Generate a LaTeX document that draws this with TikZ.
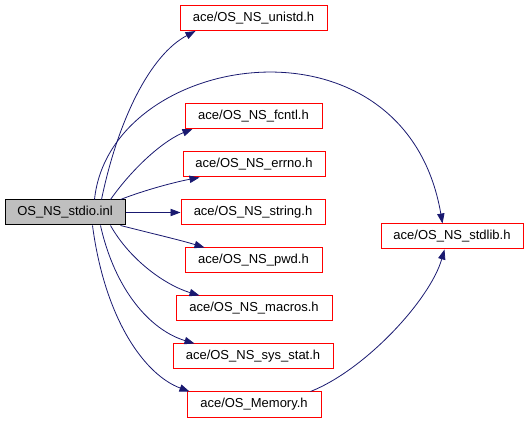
\documentclass[tikz,border=0pt]{standalone}
\usepackage{fontspec}
\setmainfont{Liberation Sans}
\usetikzlibrary{arrows.meta,calc}
\definecolor{edgeblue}{RGB}{25,25,112}
\definecolor{rootgray}{RGB}{191,191,191}
\begin{document}
\begin{tikzpicture}[x=0.75pt,y=0.75pt,
  box/.style={draw=red,line width=0.75pt,fill=white,inner sep=0pt,minimum height=18.75pt,font=\fontsize{9.75pt}{11pt}\selectfont},
  rootbox/.style={box,draw=black,fill=rootgray},
  edge/.style={draw=edgeblue,line width=0.6pt,-{Triangle[length=7.5pt,width=5.5pt]}}]
\useasboundingbox (0,0) rectangle (528,421);
\node[rootbox,minimum width=90pt] (root) at (65,208.5) {OS\_NS\_stdio.inl};
\node[box,minimum width=110.25pt] (unistd) at (253.5,403) {ace/OS\_NS\_unistd.h};
\node[box,minimum width=102.75pt] (fcntl) at (253.5,305) {ace/OS\_NS\_fcntl.h};
\node[box,minimum width=106.5pt] (errno) at (254,256.5) {ace/OS\_NS\_errno.h};
\node[box,minimum width=108pt] (string) at (253,208.5) {ace/OS\_NS\_string.h};
\node[box,minimum width=102.75pt] (pwd) at (253.5,160.5) {ace/OS\_NS\_pwd.h};
\node[box,minimum width=117pt] (macros) at (254,112.5) {ace/OS\_NS\_macros.h};
\node[box,minimum width=120pt] (sysstat) at (253,64.5) {ace/OS\_NS\_sys\_stat.h};
\node[box,minimum width=100.5pt] (memory) at (254,16.5) {ace/OS\_Memory.h};
\node[box,minimum width=106.5pt] (stdlib) at (452,184.5) {ace/OS\_NS\_stdlib.h};

\draw[edge] ($(root.north west)+(97,0)$) .. controls (118,301) and (150,366) .. ($(unistd.south west)+(16,0)$);
\draw[edge] ($(root.north west)+(90,0)$) .. controls (110,371) and (405,416) .. ($(stdlib.north west)+(62,0)$);
\draw[edge] ($(root.north east)+(-15,0)$) .. controls (135,256) and (165,281) .. ($(fcntl.south west)+(8,0)$);
\draw[edge] ($(root.north east)+(-5,0)$) .. controls (145,231) and (175,239) .. ($(errno.south west)+(17,0)$);
\draw[edge] (root.east) -- (string.west);
\draw[edge] ($(root.south east)+(-5,0)$) .. controls (150,188) and (180,181) .. ($(pwd.north west)+(20,0)$);
\draw[edge] ($(root.south east)+(-15,0)$) .. controls (130,161) and (165,136) .. ($(macros.north west)+(24,0)$);
\draw[edge] ($(root.south east)+(-25,0)$) .. controls (115,131) and (150,91) .. ($(sysstat.north west)+(22,0)$);
\draw[edge] ($(root.south east)+(-33,0)$) .. controls (105,101) and (145,46) .. ($(memory.north west)+(3,0)$);
\draw[edge] ($(memory.north east)+(-11,0)$) .. controls (365,51) and (430,121) .. ($(stdlib.south west)+(64,0)$);
\end{tikzpicture}
\end{document}
